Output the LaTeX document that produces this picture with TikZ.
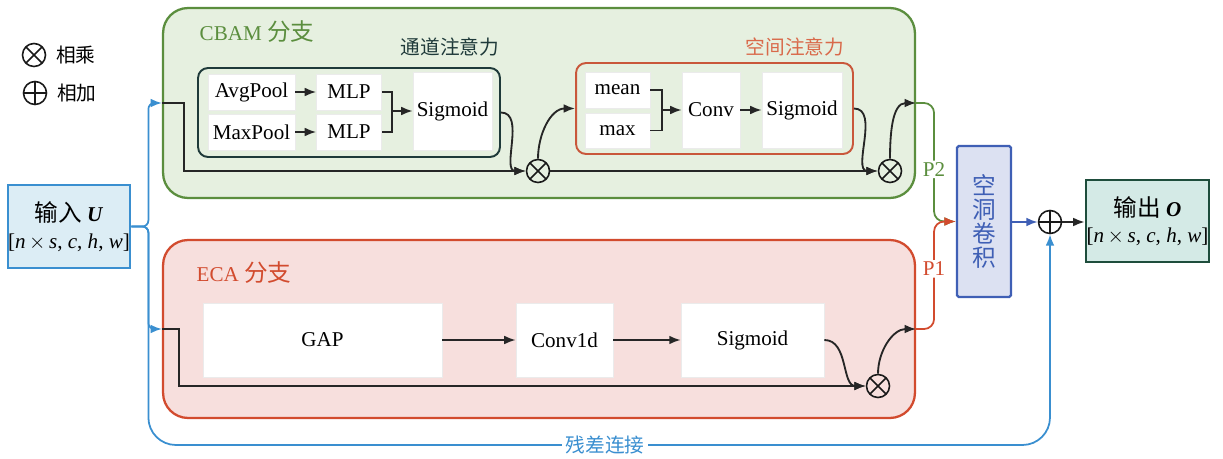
\documentclass[tikz,border=0pt]{standalone}
\usepackage{fontspec}
\setmainfont{Liberation Serif}
\newfontfamily\cjk[Scale=1.12]{Noto Sans CJK SC}
\usetikzlibrary{arrows.meta}

\definecolor{cbamline}{HTML}{5B8E3E}
\definecolor{cbamfill}{HTML}{E6F0E0}
\definecolor{ecaline}{HTML}{D24B2E}
\definecolor{ecafill}{HTML}{F7DFDD}
\definecolor{inline}{HTML}{3A8FD0}
\definecolor{infill}{HTML}{DCEDF5}
\definecolor{dilline}{HTML}{3F5FB5}
\definecolor{dilfill}{HTML}{DCE1F2}
\definecolor{outline}{HTML}{1E4D3C}
\definecolor{outfill}{HTML}{D4EAE6}
\definecolor{chanline}{HTML}{1F3A3A}
\definecolor{spline}{HTML}{C9573B}
\definecolor{sptext}{HTML}{D9694A}

\begin{document}
\begin{tikzpicture}[x=0.02cm, y=-0.02cm, >={Latex[length=6.5pt,width=5pt]},
    font=\fontsize{12}{15}\selectfont,
    wbox/.style={draw=black!8, fill=white, inner sep=0pt},
    link/.style={->, line width=1.05pt, draw=black!85},
    mult/.style={circle, draw=black!90, line width=0.9pt, minimum size=0.46cm, inner sep=0pt,
        path picture={\draw[line width=0.9pt] (path picture bounding box.north west) -- (path picture bounding box.south east)
            (path picture bounding box.north east) -- (path picture bounding box.south west);}},
    add/.style={circle, draw=black!90, line width=0.9pt, minimum size=0.46cm, inner sep=0pt,
        path picture={\draw[line width=0.9pt] (path picture bounding box.north) -- (path picture bounding box.south)
            (path picture bounding box.west) -- (path picture bounding box.east);}}]
    \useasboundingbox (0,0) rectangle (1223,459);

    % Legend
    \node[mult] (lgmul) at (34,55) {};
    \node[anchor=west, font=\cjk] (lgmultxt) at (50,55) {相乘};
    \node[add] (lgadd) at (35,93) {};
    \node[anchor=west, font=\cjk] (lgaddtxt) at (51,93) {相加};

    % Branch frames
    \node[draw=cbamline, fill=cbamfill, line width=1.3pt, rounded corners=0.5cm,
        minimum width=15.04cm, minimum height=3.8cm] (cbam) at (539,103) {};
    \node[text=cbamline] (cbamlbl) at (257,32) {CBAM {\cjk 分支}};
    \node[draw=ecaline, fill=ecafill, line width=1.3pt, rounded corners=0.5cm,
        minimum width=15.04cm, minimum height=3.56cm] (eca) at (539,329) {};
    \node[text=ecaline] (ecalbl) at (244,273) {ECA {\cjk 分支}};

    % Channel attention
    \node[draw=chanline, line width=1.1pt, rounded corners=0.2cm,
        minimum width=6.04cm, minimum height=1.78cm] (chan) at (349,112.5) {};
    \node[text=chanline, font=\cjk] (chanlbl) at (450,47) {通道注意力};
    \node[wbox, minimum width=1.74cm, minimum height=0.72cm] (avg) at (251.5,92) {AvgPool};
    \node[wbox, minimum width=1.74cm, minimum height=0.72cm] (maxp) at (251.5,132) {MaxPool};
    \node[wbox, minimum width=1.3cm, minimum height=0.72cm] (mlpa) at (349,92) {MLP};
    \node[wbox, minimum width=1.3cm, minimum height=0.72cm] (mlpb) at (349,132) {MLP};
    \node[wbox, minimum width=1.58cm, minimum height=1.56cm] (sig1) at (452.5,111) {Sigmoid};
    \coordinate (m1) at (392,111);

    % Spatial attention
    \node[draw=spline, line width=1.1pt, rounded corners=0.2cm,
        minimum width=5.54cm, minimum height=1.82cm] (sp) at (714.5,108.5) {};
    \node[text=sptext, font=\cjk] (splbl) at (795,47) {空间注意力};
    \node[wbox, minimum width=1.3cm, minimum height=0.72cm] (mean) at (617.5,90) {mean};
    \node[wbox, minimum width=1.3cm, minimum height=0.7cm] (mx) at (617.5,130.5) {max};
    \node[wbox, minimum width=1.16cm, minimum height=1.52cm] (conv) at (711,110) {Conv};
    \node[wbox, minimum width=1.6cm, minimum height=1.52cm] (sig2) at (802,110) {Sigmoid};
    \coordinate (m2) at (662,110);

    \node[mult] (x1) at (538,171) {};
    \node[mult] (x2) at (890,171) {};

    % ECA
    \node[wbox, minimum width=4.78cm, minimum height=1.48cm] (gap) at (322.5,340) {GAP};
    \node[wbox, minimum width=1.94cm, minimum height=1.48cm] (c1d) at (564.5,340) {Conv1d};
    \node[wbox, minimum width=2.86cm, minimum height=1.48cm] (sig3) at (752.5,340) {Sigmoid};
    \node[mult] (x3) at (878,386) {};

    % Input, fusion, output
    \node[draw=inline, fill=infill, line width=1.6pt, minimum width=2.44cm, minimum height=1.66cm,
        align=center, inner sep=0pt] (in) at (69,226.5)
        {{\cjk 输入} \textbf{\textit{U}}\\{}[\textit{n}\,$\times$\,\textit{s}, \textit{c}, \textit{h}, \textit{w}]};
    \node[draw=dilline, fill=dilfill, line width=1.3pt, rounded corners=1pt, minimum width=1.08cm,
        minimum height=3.02cm, align=center, text=dilline, font=\cjk\fontsize{12}{13.5}\selectfont] (dil) at (984,221.5)
        {空\\洞\\卷\\积};
    \node[add] (plus) at (1050,222) {};
    \node[draw=outline, fill=outfill, line width=1.6pt, minimum width=2.46cm, minimum height=1.64cm,
        align=center, inner sep=0pt] (out) at (1147.5,221)
        {{\cjk 输出} \textbf{\textit{O}}\\{}[\textit{n}\,$\times$\,\textit{s}, \textit{c}, \textit{h}, \textit{w}]};

    % Input to branches
    \draw[->, inline, line width=1pt, rounded corners=0.12cm] (in.east) -- ++(17,0) |- (cbam.west);
    \draw[->, inline, line width=1pt, rounded corners=0.12cm] (in.east) -- ++(17,0) |- (eca.west);
    \draw[->, inline, line width=1pt] (in.east) [rounded corners=0.12cm] -- ++(17,0)
        [rounded corners=0.55cm] |- (1050,445) -- (plus.south);
    \node[fill=white, text=inline, font=\cjk, inner sep=2pt] (resid) at (605,445) {残差连接};

    % CBAM flow
    \draw[link] (avg) -- (mlpa);
    \draw[link] (maxp) -- (mlpb);
    \draw[line width=1.05pt, black!85] (mlpa.east) -| (m1) |- (mlpb.east);
    \draw[link] (m1) -- (sig1);
    \draw[link] (cbam.west) -- ++(22,0) |- (x1.west);
    \draw[link] (chan.east) to[out=0, in=180] (x1.west);
    \draw[link] (x1.north) to[out=90, in=180] (sp.west);
    \draw[line width=1.05pt, black!85] (mean.east) -| (m2) |- (mx.east);
    \draw[link] (m2) -- (conv);
    \draw[link] (conv) -- (sig2);
    \draw[link] (x1.east) -- (x2.west);
    \draw[link] (sp.east) to[out=0, in=180] (x2.west);
    \draw[link] (x2.north) to[out=90, in=180] (cbam.east);

    % ECA flow
    \draw[link] (eca.west) -- ++(17,0) |- (x3.west);
    \draw[link] (gap) -- (c1d);
    \draw[link] (c1d) -- (sig3);
    \draw[link] (sig3.east) to[out=0, in=180] (x3.west);
    \draw[link] (x3.north) to[out=90, in=180] (eca.east);

    % Paths to dilated conv
    \draw[->, cbamline, line width=1pt, rounded corners=0.2cm] (cbam.east) -- ++(18,0) |- (dil.west)
        node[pos=0.28, fill=white, inner sep=1pt] (p2) {P2};
    \draw[->, ecaline, line width=1pt, rounded corners=0.2cm] (eca.east) -- ++(18,0) |- (dil.west)
        node[pos=0.28, fill=white, inner sep=1pt] (p1) {P1};
    \draw[->, dilline, line width=1pt] (dil.east |- plus.west) -- (plus.west);
    \draw[link] (plus.east) -- (out.west |- plus.east);
\end{tikzpicture}
\end{document}
